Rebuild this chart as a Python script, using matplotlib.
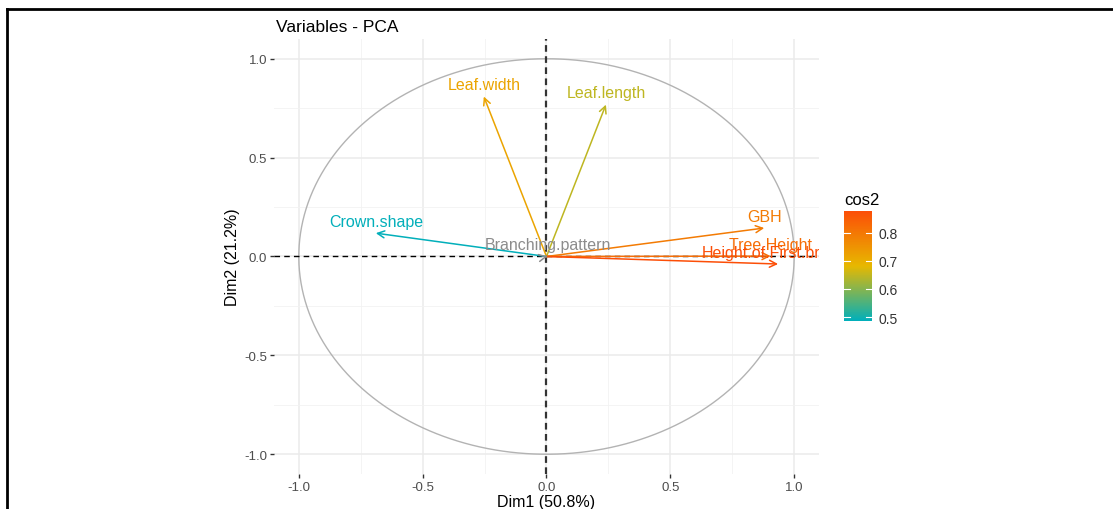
import matplotlib
matplotlib.use("Agg")
import matplotlib.pyplot as plt
import numpy as np
from matplotlib.colors import LinearSegmentedColormap, Normalize
from matplotlib.cm import ScalarMappable
from matplotlib.lines import Line2D

plt.rcParams['font.family'] = ['Liberation Sans', 'DejaVu Sans']

# Variable loadings on the first two dimensions
variables = ["Leaf.width", "Leaf.length", "Crown.shape", "GBH",
             "Tree Height", "Height.of.First.branch", "Branching.pattern"]
dim1 = [-0.253, 0.240, -0.689, 0.879, 0.905, 0.935, 0.004]
dim2 = [0.809, 0.768, 0.118, 0.144, 0.002, -0.038, 0.001]
pct_dim1 = 50.8
pct_dim2 = 21.2

cos2 = [x * x + y * y for x, y in zip(dim1, dim2)]

cmap = LinearSegmentedColormap.from_list("cos2", ["#00AFBB", "#E7B800", "#FC4E07"])
cmap.set_under("#8C8C8C")
norm = Normalize(vmin=0.486, vmax=0.877)

fig = plt.figure(figsize=(11.13, 5.10), dpi=100)
ax = fig.add_axes([0.2462, 0.0686, 0.4896, 0.853])

ax.set_xlim(-1.1, 1.1)
ax.set_ylim(-1.1, 1.1)

# grid like theme_minimal
major = [-1.0, -0.5, 0.0, 0.5, 1.0]
minor = [-0.75, -0.25, 0.25, 0.75]
ax.set_xticks(major)
ax.set_yticks(major)
ax.set_xticks(minor, minor=True)
ax.set_yticks(minor, minor=True)
ax.grid(True, which="major", color="#EBEBEB", lw=1.1)
ax.grid(True, which="minor", color="#F2F2F2", lw=0.6)
ax.set_axisbelow(True)
for s in ax.spines.values():
    s.set_visible(False)
ax.tick_params(which="major", length=3, width=1, color="#333333",
               labelsize=9.5, labelcolor="#4D4D4D", pad=2)
ax.tick_params(which="minor", length=0)
ax.set_xticklabels(["-1.0", "-0.5", "0.0", "0.5", "1.0"])
ax.set_yticklabels(["-1.0", "-0.5", "0.0", "0.5", "1.0"])

# correlation circle
t = np.linspace(0, 2 * np.pi, 400)
ax.plot(np.cos(t), np.sin(t), color="#B3B3B3", lw=1.0)

ax.axhline(0, color="black", ls=(0, (4, 3)), lw=1.0)
ax.axvline(0, color="#333333", ls=(0, (3, 2)), lw=1.6)

for name, x, y, c in zip(variables, dim1, dim2, cos2):
    col = cmap(norm(c))
    ax.annotate("", xy=(x, y), xytext=(0, 0),
                arrowprops=dict(arrowstyle="->,head_length=0.5,head_width=0.25",
                                color=col, lw=1.1, shrinkA=0, shrinkB=0))
    ax.annotate(name, xy=(x, y), xytext=(0, 8.5), textcoords="offset points",
                ha="center", va="center", fontsize=11.5, color=col,
                annotation_clip=False, clip_on=True)

ax.set_title("Variables - PCA", loc="left", fontsize=12.5, x=0.003, pad=6)
ax.set_xlabel(f"Dim1 ({pct_dim1}%)", fontsize=11.5, labelpad=1)
ax.set_ylabel(f"Dim2 ({pct_dim2}%)", fontsize=11.5, labelpad=3)

# colour legend
cax = fig.add_axes([0.7583, 0.3686, 0.0252, 0.2157])
cb = fig.colorbar(ScalarMappable(norm=norm, cmap=cmap), cax=cax)
cb.outline.set_visible(False)
cb.set_ticks([0.5, 0.6, 0.7, 0.8])
cb.set_ticklabels(["0.5", "0.6", "0.7", "0.8"])
cax.tick_params(length=0, labelsize=10, labelcolor="#333333", pad=5)
for v in [0.5, 0.6, 0.7, 0.8]:
    cax.plot([0, 0.2], [v, v], color="white", lw=0.8)
    cax.plot([0.8, 1.0], [v, v], color="white", lw=0.8)
cax.set_xlim(0, 1)
cax.set_title("cos2", fontsize=12, loc="left", pad=5)

# frame lines along the top and left
fig.add_artist(Line2D([7 / 1113, 1], [1 - 10 / 510, 1 - 10 / 510], color="black", lw=2))
fig.add_artist(Line2D([7 / 1113, 7 / 1113], [0, 1 - 10 / 510], color="black", lw=2))

fig.savefig("out.png", dpi=100)
plt.close(fig)
